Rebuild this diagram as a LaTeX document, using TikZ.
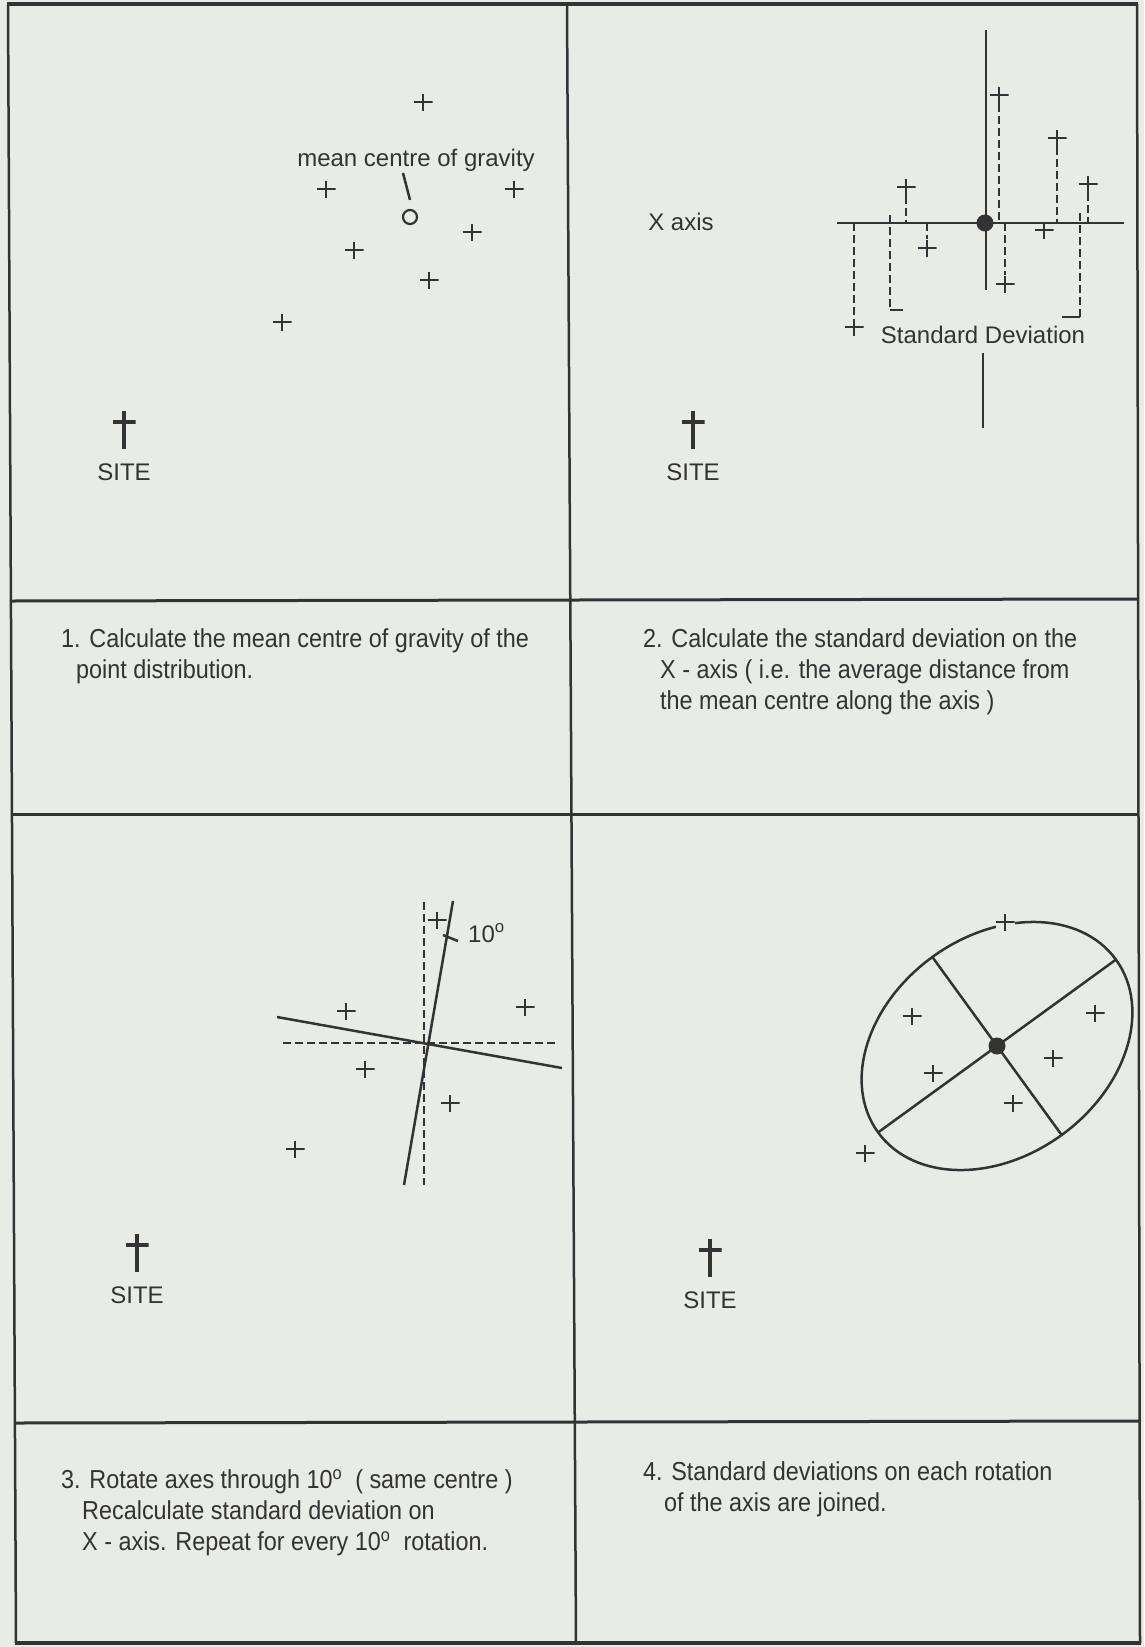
\documentclass[tikz,border=0pt]{standalone}
\usepackage{fontspec}
\setmainfont{Liberation Sans}
\newfontfamily\capfont[FakeStretch=0.9]{Liberation Sans}
\usetikzlibrary{positioning,calc}
\definecolor{Paper}{HTML}{E9ECE4}
\definecolor{Ink}{HTML}{333333}

\tikzset{
  pnt/.style={inner sep=0pt, minimum width=19pt, minimum height=17pt,
    path picture={\draw[line width=2.2pt, Ink] (path picture bounding box.west) -- (path picture bounding box.east)
      (path picture bounding box.north) -- (path picture bounding box.south);}},
  sitemark/.style={inner sep=0pt, minimum width=23pt, minimum height=38pt,
    path picture={\draw[line width=4pt, Ink] (path picture bounding box.north) -- (path picture bounding box.south)
      ($(path picture bounding box.north west)!0.3!(path picture bounding box.south west)$) --
      ($(path picture bounding box.north east)!0.3!(path picture bounding box.south east)$);}},
  lbl/.style={inner sep=0pt, font=\fontsize{24}{28}\selectfont, text=Ink},
  sitelabel/.style={lbl},
  caption/.style={inner sep=0pt, anchor=north west, align=left, font=\capfont\fontsize{26}{31}\selectfont, text=Ink},
  axisline/.style={line width=2.5pt, draw=Ink},
  dev/.style={line width=2.5pt, draw=Ink, dash pattern=on 8pt off 4pt},
  frame/.style={line width=2.5pt, draw=Ink},
  centre/.style={circle, fill=Ink, inner sep=0pt, minimum size=17pt},
  mcirc/.style={circle, draw=Ink, line width=2.2pt, inner sep=0pt, minimum size=14pt},
}

\begin{document}
\begin{tikzpicture}[x=1pt, y=-1pt]
  \useasboundingbox (0,0) rectangle (1144,1647);
  \fill[Paper] (0,0) rectangle (1144,1647);

  % frame
  \draw[frame, line width=4pt] (7,4) -- (1138,4);
  \draw[frame, line width=4pt] (15,1643) -- (1141,1643);
  \draw[frame] (8,4) -- (16,1643);
  \draw[frame] (567,4) -- (576,1643);
  \draw[frame] (1137,4) -- (1140,1643);
  \draw[frame, line width=3pt] (10,601) -- (1138,599);
  \draw[frame, line width=3pt] (11,814) -- (1139,814);
  \draw[frame, line width=3pt] (14,1423) -- (1140,1421);

  % panel 1
  \node[pnt] (p1) at (423,102) {};
  \node[pnt] (p2) at (326,189) {};
  \node[pnt] (p3) at (514,189) {};
  \node[pnt] (p4) at (472,232) {};
  \node[pnt] (p5) at (354,250) {};
  \node[pnt] (p6) at (429,280) {};
  \node[pnt] (p7) at (282,322) {};
  \node[mcirc] (mc1) at (410,217) {};
  \node[lbl, anchor=base] (mcg) at (416,166) {mean centre of gravity};
  \coordinate (lead) at (403,173);
  \draw[axisline] (lead) -- ([yshift=9pt]mc1.north);
  \node[sitemark] (s1) at (124,430) {};
  \node[sitelabel, below=14pt of s1] (site1) {SITE};
  \node[caption] (cap1) at (61,628) {1. Calculate the mean centre of gravity of the\\
    \hspace*{15pt}point distribution.};

  % panel 2
  \node[centre] (mc2) at (985,223) {};
  \draw[axisline] (837,223) -- (1124,223);
  \draw[axisline] (986,30) -- (986,290);
  \draw[axisline] (983,353) -- (983,428);
  \node[pnt] (q1) at (999,95) {};
  \node[pnt] (q2) at (1057,138) {};
  \node[pnt] (q3) at (906,187) {};
  \node[pnt] (q4) at (1088,184) {};
  \node[pnt] (q5) at (927,248) {};
  \node[pnt] (q6) at (1044,230) {};
  \node[pnt] (q7) at (1005,284) {};
  \node[pnt] (q8) at (854,327) {};
  \draw[dev] (q1.south) -- (q1 |- mc2);
  \draw[dev] (q2.south) -- (q2 |- mc2);
  \draw[dev] (q3.south) -- (q3 |- mc2);
  \draw[dev] (q4.south) -- (q4 |- mc2);
  \draw[dev] (q5 |- mc2) -- (q5.north);
  \draw[dev] (q7 |- mc2) -- (q7.north);
  \draw[dev] (q8 |- mc2) -- (q8.north);
  \coordinate (sdl) at (890,215);
  \coordinate (sdr) at (1080,213);
  \draw[dev] (sdl) -- ++(0,95) coordinate (sdl2);
  \draw[axisline] (sdl2) -- ++(13,0);
  \draw[dev] (sdr) -- ++(0,104) coordinate (sdr2);
  \draw[axisline] (sdr2) -- ++(-18,0);
  \node[lbl, anchor=base] (xax) at (681,230) {X axis};
  \node[lbl, anchor=base] (sdev) at (983,343) {Standard Deviation};
  \node[sitemark] (s2) at (693,430) {};
  \node[sitelabel, below=14pt of s2] (site2) {SITE};
  \node[caption] (cap2) at (643,628) {2. Calculate the standard deviation on the\\
    \hspace*{17pt}X - axis ( i.e. the average distance from\\
    \hspace*{17pt}the mean centre along the axis )};

  % panel 3
  \coordinate (c3) at (424,1043);
  \draw[dev] (424,902) -- (424,1185);
  \draw[dev] (283,1043) -- (558,1043);
  \draw[axisline] (453,901) -- (404,1185);
  \draw[axisline] (277,1017) -- (562,1068);
  \draw[axisline] (443,935) -- (458,941);
  \node[lbl, anchor=base west] (ang) at (468,942) {10\textsuperscript{o}};
  \node[pnt] (u1) at (437,920) {};
  \node[pnt] (u2) at (346,1011) {};
  \node[pnt] (u3) at (525,1007) {};
  \node[pnt] (u4) at (365,1069) {};
  \node[pnt] (u5) at (450,1103) {};
  \node[pnt] (u6) at (295,1149) {};
  \node[sitemark] (s3) at (137,1253) {};
  \node[sitelabel, below=14pt of s3] (site3) {SITE};
  \node[caption] (cap3) at (61,1469) {3. Rotate axes through 10\textsuperscript{o} \ ( same centre )\\
    \hspace*{21pt}Recalculate standard deviation on\\
    \hspace*{21pt}X - axis. Repeat for every 10\textsuperscript{o} \ rotation.};

  % panel 4
  \coordinate (mc4) at (997,1046);
  \draw[axisline] (mc4) ellipse [x radius=147pt, y radius=110pt, rotate=36];
  \draw[axisline] ($(mc4)+(36:147pt)$) -- ($(mc4)+(216:147pt)$);
  \draw[axisline] ($(mc4)+(126:110pt)$) -- ($(mc4)+(306:110pt)$);
  \node[centre] (dot4) at (mc4) {};
  \node[pnt, fill=Paper] (r1) at (1005,922) {};
  \node[pnt] (r2) at (912,1016) {};
  \node[pnt] (r3) at (1095,1013) {};
  \node[pnt] (r4) at (1053,1058) {};
  \node[pnt] (r5) at (933,1073) {};
  \node[pnt] (r6) at (1013,1103) {};
  \node[pnt] (r7) at (865,1153) {};
  \node[sitemark] (s4) at (710,1258) {};
  \node[sitelabel, below=14pt of s4] (site4) {SITE};
  \node[caption] (cap4) at (643,1461) {4. Standard deviations on each rotation\\
    \hspace*{21pt}of the axis are joined.};
\end{tikzpicture}
\end{document}
